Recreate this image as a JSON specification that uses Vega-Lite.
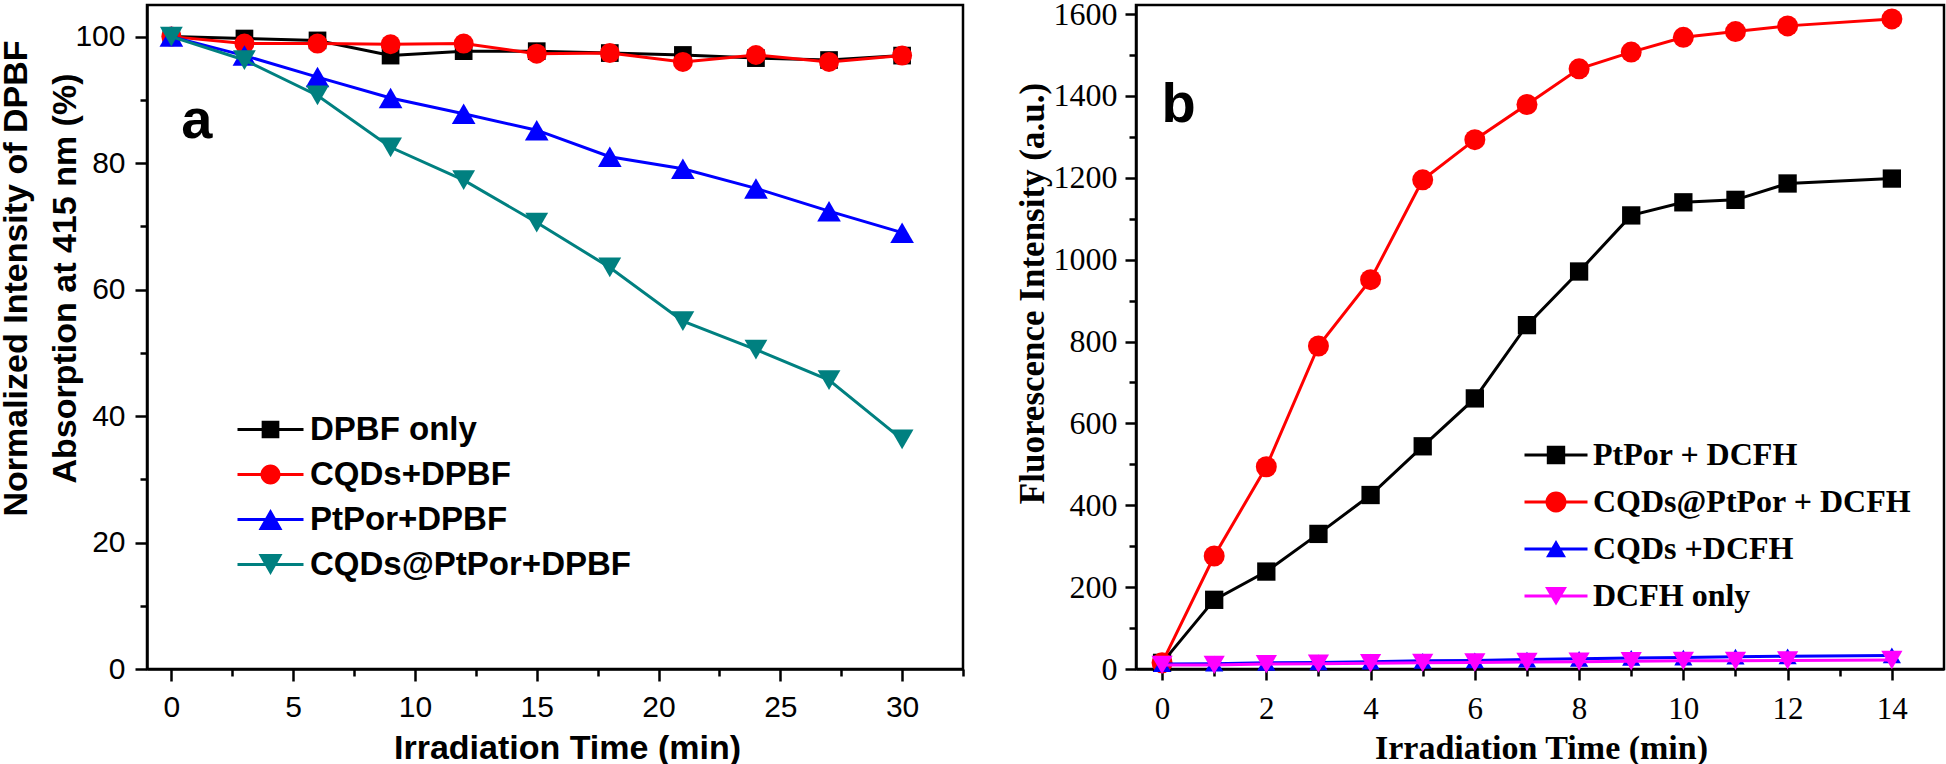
{
  "$schema": "https://vega.github.io/schema/vega-lite/v6.json",
  "background": "white",
  "padding": {"left": -3, "top": -4, "right": 0, "bottom": 0},
  "autosize": {"type": "pad"},
  "bounds": "flush",
  "spacing": 173,
  "resolve": {"scale": {"color": "independent", "shape": "independent"}, "legend": {"color": "independent", "shape": "independent"}},
  "config": {
    "view": {"stroke": "black", "strokeWidth": 2.5},
    "axis": {"grid": false}
  },
  "datasets": {
    "a": [
      {"t": 0, "v": 100, "s": "DPBF only"},
      {"t": 3, "v": 99.7, "s": "DPBF only"},
      {"t": 6, "v": 99.4, "s": "DPBF only"},
      {"t": 9, "v": 97.0, "s": "DPBF only"},
      {"t": 12, "v": 97.7, "s": "DPBF only"},
      {"t": 15, "v": 97.7, "s": "DPBF only"},
      {"t": 18, "v": 97.4, "s": "DPBF only"},
      {"t": 21, "v": 97.1, "s": "DPBF only"},
      {"t": 24, "v": 96.6, "s": "DPBF only"},
      {"t": 27, "v": 96.3, "s": "DPBF only"},
      {"t": 30, "v": 97.0, "s": "DPBF only"},
      {"t": 0, "v": 100, "s": "CQDs+DPBF"},
      {"t": 3, "v": 98.9, "s": "CQDs+DPBF"},
      {"t": 6, "v": 98.9, "s": "CQDs+DPBF"},
      {"t": 9, "v": 98.8, "s": "CQDs+DPBF"},
      {"t": 12, "v": 98.9, "s": "CQDs+DPBF"},
      {"t": 15, "v": 97.3, "s": "CQDs+DPBF"},
      {"t": 18, "v": 97.4, "s": "CQDs+DPBF"},
      {"t": 21, "v": 96.0, "s": "CQDs+DPBF"},
      {"t": 24, "v": 97.1, "s": "CQDs+DPBF"},
      {"t": 27, "v": 96.0, "s": "CQDs+DPBF"},
      {"t": 30, "v": 97.0, "s": "CQDs+DPBF"},
      {"t": 0, "v": 100, "s": "PtPor+DPBF"},
      {"t": 3, "v": 97.0, "s": "PtPor+DPBF"},
      {"t": 6, "v": 93.6, "s": "PtPor+DPBF"},
      {"t": 9, "v": 90.3, "s": "PtPor+DPBF"},
      {"t": 12, "v": 87.8, "s": "PtPor+DPBF"},
      {"t": 15, "v": 85.2, "s": "PtPor+DPBF"},
      {"t": 18, "v": 81.0, "s": "PtPor+DPBF"},
      {"t": 21, "v": 79.1, "s": "PtPor+DPBF"},
      {"t": 24, "v": 76.0, "s": "PtPor+DPBF"},
      {"t": 27, "v": 72.4, "s": "PtPor+DPBF"},
      {"t": 30, "v": 69.0, "s": "PtPor+DPBF"},
      {"t": 0, "v": 100, "s": "CQDs@PtPor+DPBF"},
      {"t": 3, "v": 96.3, "s": "CQDs@PtPor+DPBF"},
      {"t": 6, "v": 90.7, "s": "CQDs@PtPor+DPBF"},
      {"t": 9, "v": 82.5, "s": "CQDs@PtPor+DPBF"},
      {"t": 12, "v": 77.3, "s": "CQDs@PtPor+DPBF"},
      {"t": 15, "v": 70.6, "s": "CQDs@PtPor+DPBF"},
      {"t": 18, "v": 63.5, "s": "CQDs@PtPor+DPBF"},
      {"t": 21, "v": 55.0, "s": "CQDs@PtPor+DPBF"},
      {"t": 24, "v": 50.5, "s": "CQDs@PtPor+DPBF"},
      {"t": 27, "v": 45.7, "s": "CQDs@PtPor+DPBF"},
      {"t": 30, "v": 36.3, "s": "CQDs@PtPor+DPBF"}
    ],
    "b": [
      {"t": 0, "v": 15, "s": "PtPor + DCFH"},
      {"t": 1, "v": 169, "s": "PtPor + DCFH"},
      {"t": 2, "v": 238, "s": "PtPor + DCFH"},
      {"t": 3, "v": 330, "s": "PtPor + DCFH"},
      {"t": 4, "v": 425, "s": "PtPor + DCFH"},
      {"t": 5, "v": 544, "s": "PtPor + DCFH"},
      {"t": 6, "v": 661, "s": "PtPor + DCFH"},
      {"t": 7, "v": 840, "s": "PtPor + DCFH"},
      {"t": 8, "v": 971, "s": "PtPor + DCFH"},
      {"t": 9, "v": 1108, "s": "PtPor + DCFH"},
      {"t": 10, "v": 1140, "s": "PtPor + DCFH"},
      {"t": 11, "v": 1146, "s": "PtPor + DCFH"},
      {"t": 12, "v": 1186, "s": "PtPor + DCFH"},
      {"t": 14, "v": 1198, "s": "PtPor + DCFH"},
      {"t": 0, "v": 15, "s": "CQDs@PtPor + DCFH"},
      {"t": 1, "v": 276, "s": "CQDs@PtPor + DCFH"},
      {"t": 2, "v": 494, "s": "CQDs@PtPor + DCFH"},
      {"t": 3, "v": 789, "s": "CQDs@PtPor + DCFH"},
      {"t": 4, "v": 951, "s": "CQDs@PtPor + DCFH"},
      {"t": 5, "v": 1195, "s": "CQDs@PtPor + DCFH"},
      {"t": 6, "v": 1293, "s": "CQDs@PtPor + DCFH"},
      {"t": 7, "v": 1379, "s": "CQDs@PtPor + DCFH"},
      {"t": 8, "v": 1466, "s": "CQDs@PtPor + DCFH"},
      {"t": 9, "v": 1507, "s": "CQDs@PtPor + DCFH"},
      {"t": 10, "v": 1543, "s": "CQDs@PtPor + DCFH"},
      {"t": 11, "v": 1557, "s": "CQDs@PtPor + DCFH"},
      {"t": 12, "v": 1571, "s": "CQDs@PtPor + DCFH"},
      {"t": 14, "v": 1588, "s": "CQDs@PtPor + DCFH"},
      {"t": 0, "v": 12, "s": "CQDs +DCFH"},
      {"t": 1, "v": 13, "s": "CQDs +DCFH"},
      {"t": 2, "v": 15, "s": "CQDs +DCFH"},
      {"t": 3, "v": 16, "s": "CQDs +DCFH"},
      {"t": 4, "v": 18, "s": "CQDs +DCFH"},
      {"t": 5, "v": 20, "s": "CQDs +DCFH"},
      {"t": 6, "v": 21, "s": "CQDs +DCFH"},
      {"t": 7, "v": 23, "s": "CQDs +DCFH"},
      {"t": 8, "v": 25, "s": "CQDs +DCFH"},
      {"t": 9, "v": 27, "s": "CQDs +DCFH"},
      {"t": 10, "v": 28, "s": "CQDs +DCFH"},
      {"t": 11, "v": 30, "s": "CQDs +DCFH"},
      {"t": 12, "v": 31, "s": "CQDs +DCFH"},
      {"t": 14, "v": 33, "s": "CQDs +DCFH"},
      {"t": 0, "v": 10, "s": "DCFH only"},
      {"t": 1, "v": 10, "s": "DCFH only"},
      {"t": 2, "v": 12, "s": "DCFH only"},
      {"t": 3, "v": 13, "s": "DCFH only"},
      {"t": 4, "v": 14, "s": "DCFH only"},
      {"t": 5, "v": 15, "s": "DCFH only"},
      {"t": 6, "v": 16, "s": "DCFH only"},
      {"t": 7, "v": 17, "s": "DCFH only"},
      {"t": 8, "v": 18, "s": "DCFH only"},
      {"t": 9, "v": 19, "s": "DCFH only"},
      {"t": 10, "v": 20, "s": "DCFH only"},
      {"t": 11, "v": 20, "s": "DCFH only"},
      {"t": 12, "v": 21, "s": "DCFH only"},
      {"t": 14, "v": 22, "s": "DCFH only"}
    ]
  },
  "hconcat": [
    {
      "width": 816,
      "height": 664,
      "data": {"name": "a"},
      "resolve": {"axis": {"x": "independent", "y": "independent"}},
      "encoding": {
        "x": {"field": "t", "type": "quantitative", "scale": {"domain": [-1, 32.5], "nice": false, "zero": false}, "axis": null},
        "y": {"field": "v", "type": "quantitative", "scale": {"domain": [0, 105], "nice": false, "zero": false}, "axis": null}
      },
      "layer": [
        {
          "transform": [{"filter": "datum.s === 'DPBF only'"}],
          "mark": {"type": "line", "color": "#000000", "strokeWidth": 3},
          "encoding": {
            "x": {"field": "t", "type": "quantitative", "scale": {"domain": [-1, 32.5], "nice": false, "zero": false},
              "axis": {"orient": "bottom", "values": [0, 5, 10, 15, 20, 25, 30], "tickSize": 12, "tickWidth": 2.5, "tickColor": "black", "domainColor": "black", "domainWidth": 2.5, "labelFont": "Liberation Sans", "labelFontSize": 30, "labelColor": "black", "labelPadding": 11, "labelFlush": false, "title": "Irradiation Time (min)", "titleFont": "Liberation Sans", "titleFontWeight": "bold", "titleFontSize": 34, "titleColor": "black", "titleX": 420, "titleY": 89, "titleBaseline": "alphabetic", "titleAlign": "center"}},
            "y": {"field": "v", "type": "quantitative", "scale": {"domain": [0, 105], "nice": false, "zero": false},
              "axis": {"orient": "left", "values": [0, 20, 40, 60, 80, 100], "tickSize": 12, "tickWidth": 2.5, "tickColor": "black", "domainColor": "black", "domainWidth": 2.5, "labelFont": "Liberation Sans", "labelFontSize": 30, "labelColor": "black", "labelPadding": 10, "labelFlush": false, "title": ["Normalized Intensity of DPBF", "Absorption at 415 nm (%)"], "titleFont": "Liberation Sans", "titleFontWeight": "bold", "titleFontSize": 34, "titleColor": "black", "titleAngle": -90, "titleX": -121, "titleY": 273, "titleBaseline": "alphabetic", "titleAlign": "center", "titleLineHeight": 49}}
          }
        },
        {
          "transform": [{"filter": "datum.s === 'DPBF only'"}],
          "mark": {"type": "point", "filled": true, "opacity": 1, "shape": "square", "color": "#000000", "size": 313}
        },
        {
          "transform": [{"filter": "datum.s === 'CQDs+DPBF'"}],
          "mark": {"type": "line", "color": "#ff0000", "strokeWidth": 3}
        },
        {
          "transform": [{"filter": "datum.s === 'CQDs+DPBF'"}],
          "mark": {"type": "point", "filled": true, "opacity": 1, "shape": "circle", "color": "#ff0000", "size": 400}
        },
        {
          "transform": [{"filter": "datum.s === 'PtPor+DPBF'"}],
          "mark": {"type": "line", "color": "#0000ff", "strokeWidth": 3}
        },
        {
          "transform": [{"filter": "datum.s === 'PtPor+DPBF'"}],
          "mark": {"type": "point", "filled": true, "opacity": 1, "shape": "triangle-up", "color": "#0000ff", "size": 560}
        },
        {
          "transform": [{"filter": "datum.s === 'CQDs@PtPor+DPBF'"}],
          "mark": {"type": "line", "color": "#008080", "strokeWidth": 3}
        },
        {
          "transform": [{"filter": "datum.s === 'CQDs@PtPor+DPBF'"}],
          "mark": {"type": "point", "filled": true, "opacity": 1, "shape": "triangle-down", "color": "#008080", "size": 520}
        },
        {
          "mark": {"type": "point", "filled": true, "opacity": 0},
          "encoding": {
            "color": {"field": "s", "type": "nominal",
              "scale": {"domain": ["DPBF only", "CQDs+DPBF", "PtPor+DPBF", "CQDs@PtPor+DPBF"], "range": ["#000000", "#ff0000", "#0000ff", "#008080"]},
              "legend": {"orient": "none", "legendX": 107, "legendY": 408, "title": null, "padding": 0, "labelFont": "Liberation Sans", "labelFontWeight": "bold", "labelFontSize": 33, "labelColor": "black", "labelOffset": 23, "labelLimit": 0, "rowPadding": 11, "symbolSize": 400, "symbolOpacity": 1, "symbolStrokeWidth": 0}},
            "shape": {"field": "s", "type": "nominal",
              "scale": {"domain": ["DPBF only", "CQDs+DPBF", "PtPor+DPBF", "CQDs@PtPor+DPBF"],
                "range": [
                  "M-3.3,-0.15H3.3V0.15H-3.3ZM-0.885,-0.885H0.885V0.885H-0.885Z",
                  "M-3.3,-0.15H3.3V0.15H-3.3ZM1,0A1,1,0,1,1,-1,0A1,1,0,1,1,1,0Z",
                  "M-3.3,-0.15H3.3V0.15H-3.3ZM0,-1.04L1.2,1.04H-1.2Z",
                  "M-3.3,-0.15H3.3V0.15H-3.3ZM0,1.04L-1.2,-1.04H1.2Z"
                ]},
              "legend": {"orient": "none", "legendX": 107, "legendY": 408, "title": null, "padding": 0, "labelFont": "Liberation Sans", "labelFontWeight": "bold", "labelFontSize": 33, "labelColor": "black", "labelOffset": 23, "labelLimit": 0, "rowPadding": 11, "symbolSize": 400, "symbolOpacity": 1, "symbolStrokeWidth": 0}}
          }
        },
        {
          "mark": {"type": "point", "opacity": 0},
          "encoding": {
            "x": {"field": "t", "type": "quantitative", "scale": {"domain": [-1, 32.5], "nice": false, "zero": false},
              "axis": {"orient": "bottom", "values": [2.5, 7.5, 12.5, 17.5, 22.5, 27.5, 32.5], "labels": false, "domain": false, "tickSize": 7, "tickWidth": 2.5, "tickColor": "black", "title": null}},
            "y": {"field": "v", "type": "quantitative", "scale": {"domain": [0, 105], "nice": false, "zero": false},
              "axis": {"orient": "left", "values": [10, 30, 50, 70, 90], "labels": false, "domain": false, "tickSize": 7, "tickWidth": 2.5, "tickColor": "black", "title": null}}
          }
        },
        {
          "transform": [{"filter": "datum.s === 'DPBF only' && datum.t === 0"}],
          "mark": {"type": "text", "font": "Liberation Sans", "fontWeight": "bold", "fontSize": 56, "align": "left", "baseline": "alphabetic", "color": "black"},
          "encoding": {
            "x": {"datum": 0.41, "type": "quantitative", "scale": {"domain": [-1, 32.5], "nice": false, "zero": false}, "axis": null},
            "y": {"datum": 83.9, "type": "quantitative", "scale": {"domain": [0, 105], "nice": false, "zero": false}, "axis": null},
            "text": {"value": "a"}
          }
        }
      ]
    },
    {
      "width": 808,
      "height": 664,
      "data": {"name": "b"},
      "resolve": {"axis": {"x": "independent", "y": "independent"}},
      "encoding": {
        "x": {"field": "t", "type": "quantitative", "scale": {"domain": [-0.5, 15], "nice": false, "zero": false}, "axis": null},
        "y": {"field": "v", "type": "quantitative", "scale": {"domain": [0, 1622], "nice": false, "zero": false}, "axis": null}
      },
      "layer": [
        {
          "transform": [{"filter": "datum.s === 'PtPor + DCFH'"}],
          "mark": {"type": "line", "color": "#000000", "strokeWidth": 3},
          "encoding": {
            "x": {"field": "t", "type": "quantitative", "scale": {"domain": [-0.5, 15], "nice": false, "zero": false},
              "axis": {"orient": "bottom", "values": [0, 2, 4, 6, 8, 10, 12, 14], "tickSize": 11, "tickWidth": 2.5, "tickColor": "black", "domainColor": "black", "domainWidth": 2.5, "labelFont": "Liberation Serif", "labelFontSize": 31, "labelColor": "black", "labelPadding": 14, "labelFlush": false, "title": "Irradiation Time (min)", "titleFont": "Liberation Serif", "titleFontWeight": "bold", "titleFontSize": 34, "titleColor": "black", "titleX": 405, "titleY": 89, "titleBaseline": "alphabetic", "titleAlign": "center"}},
            "y": {"field": "v", "type": "quantitative", "scale": {"domain": [0, 1622], "nice": false, "zero": false},
              "axis": {"orient": "left", "values": [0, 200, 400, 600, 800, 1000, 1200, 1400, 1600], "format": "d", "tickSize": 11, "tickWidth": 2.5, "tickColor": "black", "domainColor": "black", "domainWidth": 2.5, "labelFont": "Liberation Serif", "labelFontSize": 32, "labelColor": "black", "labelPadding": 8, "labelFlush": false, "title": "Fluorescence Intensity (a.u.)", "titleFont": "Liberation Serif", "titleFontWeight": "bold", "titleFontSize": 35, "titleColor": "black", "titleAngle": -90, "titleX": -93, "titleY": 288, "titleBaseline": "alphabetic", "titleAlign": "center"}}
          }
        },
        {
          "transform": [{"filter": "datum.s === 'PtPor + DCFH'"}],
          "mark": {"type": "point", "filled": true, "opacity": 1, "shape": "square", "color": "#000000", "size": 335}
        },
        {
          "transform": [{"filter": "datum.s === 'CQDs@PtPor + DCFH'"}],
          "mark": {"type": "line", "color": "#ff0000", "strokeWidth": 3}
        },
        {
          "transform": [{"filter": "datum.s === 'CQDs@PtPor + DCFH'"}],
          "mark": {"type": "point", "filled": true, "opacity": 1, "shape": "circle", "color": "#ff0000", "size": 441}
        },
        {
          "transform": [{"filter": "datum.s === 'CQDs +DCFH'"}],
          "mark": {"type": "line", "color": "#0000ff", "strokeWidth": 3}
        },
        {
          "transform": [{"filter": "datum.s === 'CQDs +DCFH'"}],
          "mark": {"type": "point", "filled": true, "opacity": 1, "shape": "triangle-up", "color": "#0000ff", "size": 330}
        },
        {
          "transform": [{"filter": "datum.s === 'DCFH only'"}],
          "mark": {"type": "line", "color": "#ff00ff", "strokeWidth": 3}
        },
        {
          "transform": [{"filter": "datum.s === 'DCFH only'"}],
          "mark": {"type": "point", "filled": true, "opacity": 1, "shape": "triangle-down", "color": "#ff00ff", "size": 450}
        },
        {
          "mark": {"type": "point", "filled": true, "opacity": 0},
          "encoding": {
            "color": {"field": "s", "type": "nominal",
              "scale": {"domain": ["PtPor + DCFH", "CQDs@PtPor + DCFH", "CQDs +DCFH", "DCFH only"], "range": ["#000000", "#ff0000", "#0000ff", "#ff00ff"]},
              "legend": {"orient": "none", "legendX": 404, "legendY": 434, "title": null, "padding": 0, "labelFont": "Liberation Serif", "labelFontWeight": "bold", "labelFontSize": 32, "labelColor": "black", "labelOffset": 21, "labelLimit": 0, "rowPadding": 15, "symbolSize": 400, "symbolOpacity": 1, "symbolStrokeWidth": 0}},
            "shape": {"field": "s", "type": "nominal",
              "scale": {"domain": ["PtPor + DCFH", "CQDs@PtPor + DCFH", "CQDs +DCFH", "DCFH only"],
                "range": [
                  "M-3.15,-0.15H3.15V0.15H-3.15ZM-0.92,-0.92H0.92V0.92H-0.92Z",
                  "M-3.15,-0.15H3.15V0.15H-3.15ZM1.05,0A1.05,1.05,0,1,1,-1.05,0A1.05,1.05,0,1,1,1.05,0Z",
                  "M-3.15,-0.15H3.15V0.15H-3.15ZM0,-0.9L1,0.82H-1Z",
                  "M-3.15,-0.15H3.15V0.15H-3.15ZM0,0.95L-1.1,-0.9H1.1Z"
                ]},
              "legend": {"orient": "none", "legendX": 404, "legendY": 434, "title": null, "padding": 0, "labelFont": "Liberation Serif", "labelFontWeight": "bold", "labelFontSize": 32, "labelColor": "black", "labelOffset": 21, "labelLimit": 0, "rowPadding": 15, "symbolSize": 400, "symbolOpacity": 1, "symbolStrokeWidth": 0}}
          }
        },
        {
          "mark": {"type": "point", "opacity": 0},
          "encoding": {
            "x": {"field": "t", "type": "quantitative", "scale": {"domain": [-0.5, 15], "nice": false, "zero": false},
              "axis": {"orient": "bottom", "values": [1, 3, 5, 7, 9, 11, 13], "labels": false, "domain": false, "tickSize": 7, "tickWidth": 2.5, "tickColor": "black", "title": null}},
            "y": {"field": "v", "type": "quantitative", "scale": {"domain": [0, 1622], "nice": false, "zero": false},
              "axis": {"orient": "left", "values": [100, 300, 500, 700, 900, 1100, 1300, 1500], "labels": false, "domain": false, "tickSize": 7, "tickWidth": 2.5, "tickColor": "black", "title": null}}
          }
        },
        {
          "transform": [{"filter": "datum.s === 'PtPor + DCFH' && datum.t === 0"}],
          "mark": {"type": "text", "font": "Liberation Sans", "fontWeight": "bold", "fontSize": 56, "align": "left", "baseline": "alphabetic", "color": "black"},
          "encoding": {
            "x": {"datum": -0.01, "type": "quantitative", "scale": {"domain": [-0.5, 15], "nice": false, "zero": false}, "axis": null},
            "y": {"datum": 1335, "type": "quantitative", "scale": {"domain": [0, 1622], "nice": false, "zero": false}, "axis": null},
            "text": {"value": "b"}
          }
        }
      ]
    }
  ]
}
